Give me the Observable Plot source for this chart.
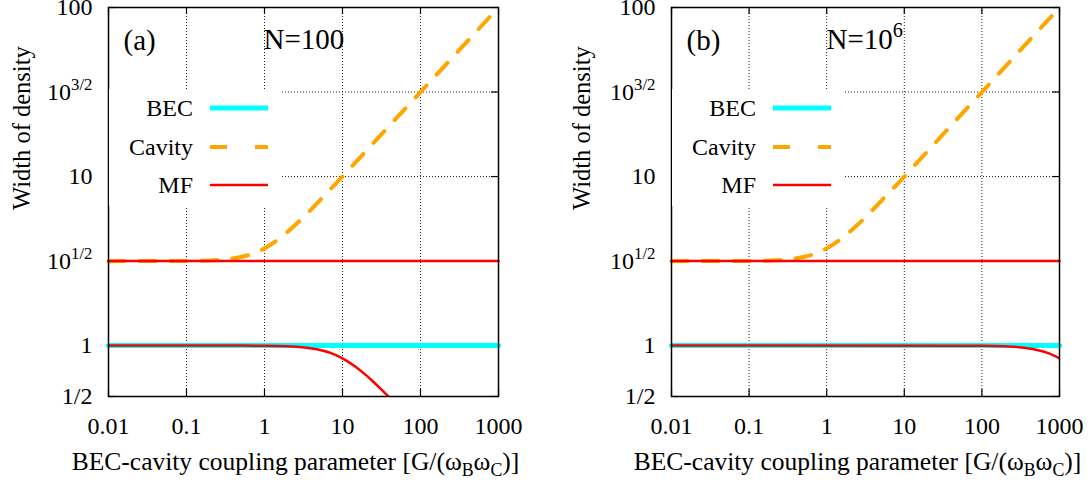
<!DOCTYPE html>
<html><head><meta charset="utf-8">
<script src="https://cdn.jsdelivr.net/npm/d3@7"></script>
<script src="https://cdn.jsdelivr.net/npm/@observablehq/plot@0.6"></script>
<style>
body{margin:0;background:#fff;}
#wrap{display:flex;width:1092px;height:488px;overflow:hidden;}
.panel{position:relative;width:546px;height:488px;}
.panel svg.legend{position:absolute;background:#fff;}
.panel svg, .panel svg text{font-family:"Liberation Serif","Times New Roman",Tinos,"DejaVu Serif",serif !important;}
</style></head><body><div id="wrap"></div>
<script>
// ---- data ----
const couplingG   = [0.01, 0.1, 0.2, 0.3, 0.5, 0.7, 1, 1.5, 2, 3, 5, 7, 10, 15, 20, 30, 50, 70, 100, 200, 300, 500, 700, 1000];
const cavityWidth = [3.16, 3.17, 3.19, 3.23, 3.34, 3.49, 3.76, 4.25, 4.73, 5.62, 7.14, 8.41, 10.0, 12.26, 14.15, 17.32, 22.36, 26.46, 31.62, 44.72, 54.77, 70.71, 83.67, 100];
const couplingEnds = [0.01, 1000];
const becWidth     = [1, 1];
const mfCavityWidth = [3.162, 3.162];
const mfG_N100   = [0.01, 0.5, 1, 2, 3, 5, 7, 10, 15, 20, 25, 30, 35, 40];
const mfBec_N100 = [1, 1, 0.999, 0.99, 0.979, 0.946, 0.905, 0.841, 0.745, 0.669, 0.609, 0.562, 0.524, 0.493];
const mfG_N1e6   = [0.01, 50, 100, 200, 300, 500, 700, 1000];
const mfBec_N1e6 = [1, 0.9994, 0.998, 0.99, 0.979, 0.946, 0.905, 0.841];
const xTicks = [0.01, 0.1, 1, 10, 100, 1000];
const xTickLabels = ["0.01", "0.1", "1", "10", "100", "1000"];
const yTicks = [0.5, 1, Math.sqrt(10), 10, Math.pow(10, 1.5), 100];
const yTickLabels = ["1/2", "1", "10^{1/2}", "10", "10^{3/2}", "100"];
const seriesNames = ["BEC", "Cavity", "MF"];
const panelTags = ["(a)", "(b)"];
const panelN = ["N=100", "N=10^6"];
const xLabel = "BEC-cavity coupling parameter [G/(ω_Bω_C)]";
const yLabel = "Width of density";

const COLORS = {BEC: "#00FFFF", Cavity: "#FFA500", MF: "#FF0000"};
const FONT = '"Liberation Serif", "Times New Roman", Tinos, "DejaVu Serif", serif';

const zip = (xs, ys) => xs.map((x, i) => ({x, y: ys[i]}));
const xTickRows = xTicks.map((v, i) => ({v, label: xTickLabels[i]}));
const yTickRows = yTicks.map((v, i) => ({v, label: yTickLabels[i]}));

function richify(root) {
  root.querySelectorAll("text").forEach(t => {
    if (t.querySelector("tspan")) return;
    const s = t.textContent;
    if (!/[\^_]/.test(s)) return;
    t.textContent = "";
    const re = /([\^_])(?:\{([^}]*)\}|(.))/g;
    let last = 0, m, shift = 0;
    const add = (str, kind) => {
      if (!str) return;
      const ts = document.createElementNS("http://www.w3.org/2000/svg", "tspan");
      ts.textContent = str;
      let target = 0, scale = 1;
      if (kind === "^") { target = -0.42; scale = 0.7; ts.setAttribute("font-size", "70%"); }
      else if (kind === "_") { target = 0.25; scale = 0.7; ts.setAttribute("font-size", "70%"); }
      const d = target - shift;
      if (d) ts.setAttribute("dy", (d / scale).toFixed(3) + "em");
      shift = target;
      t.appendChild(ts);
    };
    while ((m = re.exec(s))) {
      add(s.slice(last, m.index), null);
      add(m[2] !== undefined ? m[2] : m[3], m[1]);
      last = re.lastIndex;
    }
    add(s.slice(last), null);
  });
}

function legendSVG(left) {
  const ns = "http://www.w3.org/2000/svg";
  const svg = document.createElementNS(ns, "svg");
  svg.setAttribute("class", "legend");
  svg.setAttribute("width", 173);
  svg.setAttribute("height", 117);
  svg.style.left = left + "px";
  svg.style.top = "89px";
  const rows = [19, 58, 96];
  const styles = {
    BEC: {w: 5, dash: null},
    Cavity: {w: 4, dash: "17,28"},
    MF: {w: 2.5, dash: null}
  };
  seriesNames.forEach((name, i) => {
    const tx = document.createElementNS(ns, "text");
    tx.setAttribute("x", 84);
    tx.setAttribute("y", rows[i]);
    tx.setAttribute("dy", "0.34em");
    tx.setAttribute("text-anchor", "end");
    tx.setAttribute("font-size", 24);
    tx.textContent = name;
    svg.appendChild(tx);
    const ln = document.createElementNS(ns, "line");
    ln.setAttribute("x1", 101); ln.setAttribute("x2", 159);
    ln.setAttribute("y1", rows[i]); ln.setAttribute("y2", rows[i]);
    ln.setAttribute("stroke", COLORS[name]);
    ln.setAttribute("stroke-width", styles[name].w);
    if (styles[name].dash) ln.setAttribute("stroke-dasharray", styles[name].dash);
    svg.appendChild(ln);
  });
  return svg;
}

const panels = [
  {tag: panelTags[0], n: panelN[0], mfG: mfG_N100, mfBec: mfBec_N100, ml: 108, mr: 48, ylDx: -86, legendLeft: 109},
  {tag: panelTags[1], n: panelN[1], mfG: mfG_N1e6, mfBec: mfBec_N1e6, ml: 125, mr: 33, ylDx: -89, legendLeft: 126}
];

const W = 546, H = 488, MT = 7, MB = 92;
const wrap = document.getElementById("wrap");

panels.forEach(p => {
  const innerW = W - p.ml - p.mr;
  const innerH = H - MT - MB;
  const grid = {stroke: "#222", strokeWidth: 1, strokeDasharray: "1,2"};
  const tick = {stroke: "black", strokeWidth: 1.2};
  const svg = Plot.plot({
    width: W, height: H,
    marginLeft: p.ml, marginRight: p.mr, marginTop: MT, marginBottom: MB,
    x: {type: "log", domain: [0.01, 1000], axis: null},
    y: {type: "log", domain: [0.5, 100], axis: null},
    style: {fontFamily: FONT, fontSize: "24px", color: "black", background: "white"},
    marks: [
      Plot.ruleX(xTicks.slice(1, -1), grid),
      Plot.ruleY(yTicks.slice(1, -1), grid),
      Plot.ruleX(xTicks, {...tick, insetTop: innerH - 7}),
      Plot.ruleX(xTicks, {...tick, insetBottom: innerH - 7}),
      Plot.ruleY(yTicks, {...tick, insetRight: innerW - 7}),
      Plot.ruleY(yTicks, {...tick, insetLeft: innerW - 7}),
      Plot.line(zip(couplingEnds, becWidth), {x: "x", y: "y", stroke: COLORS.BEC, strokeWidth: 5}),
      Plot.line(zip(couplingG, cavityWidth), {x: "x", y: "y", stroke: COLORS.Cavity, strokeWidth: 4, strokeDasharray: "16,15", curve: "monotone-x"}),
      Plot.line(zip(couplingEnds, mfCavityWidth), {x: "x", y: "y", stroke: COLORS.MF, strokeWidth: 2.5}),
      Plot.line(zip(p.mfG, p.mfBec), {x: "x", y: "y", stroke: COLORS.MF, strokeWidth: 2.5, curve: "monotone-x", clip: true}),
      Plot.frame({stroke: "black", strokeWidth: 1.5}),
      Plot.text(xTickRows, {x: "v", text: "label", frameAnchor: "bottom", lineAnchor: "middle", dy: 30, fontSize: 24}),
      Plot.text(yTickRows, {y: "v", text: "label", frameAnchor: "left", lineAnchor: "middle", dx: -16, textAnchor: "end", fontSize: 24}),
      Plot.text([xLabel], {text: d => d, frameAnchor: "bottom", dy: 73, dx: -8, fontSize: 25.5}),
      Plot.text([yLabel], {text: d => d, frameAnchor: "left", lineAnchor: "middle", rotate: -90, dx: p.ylDx, dy: 8, fontSize: 24.5}),
      Plot.text([p.tag], {text: d => d, frameAnchor: "top-left", lineAnchor: "middle", dx: 15, dy: 33, textAnchor: "start", fontSize: 29}),
      Plot.text([p.n], {text: d => d, frameAnchor: "top-left", lineAnchor: "middle", dx: 155, dy: 32, textAnchor: "start", fontSize: 29})
    ]
  });
  const div = document.createElement("div");
  div.className = "panel";
  div.appendChild(svg);
  div.appendChild(legendSVG(p.legendLeft));
  wrap.appendChild(div);
  richify(svg);
});
</script></body></html>
